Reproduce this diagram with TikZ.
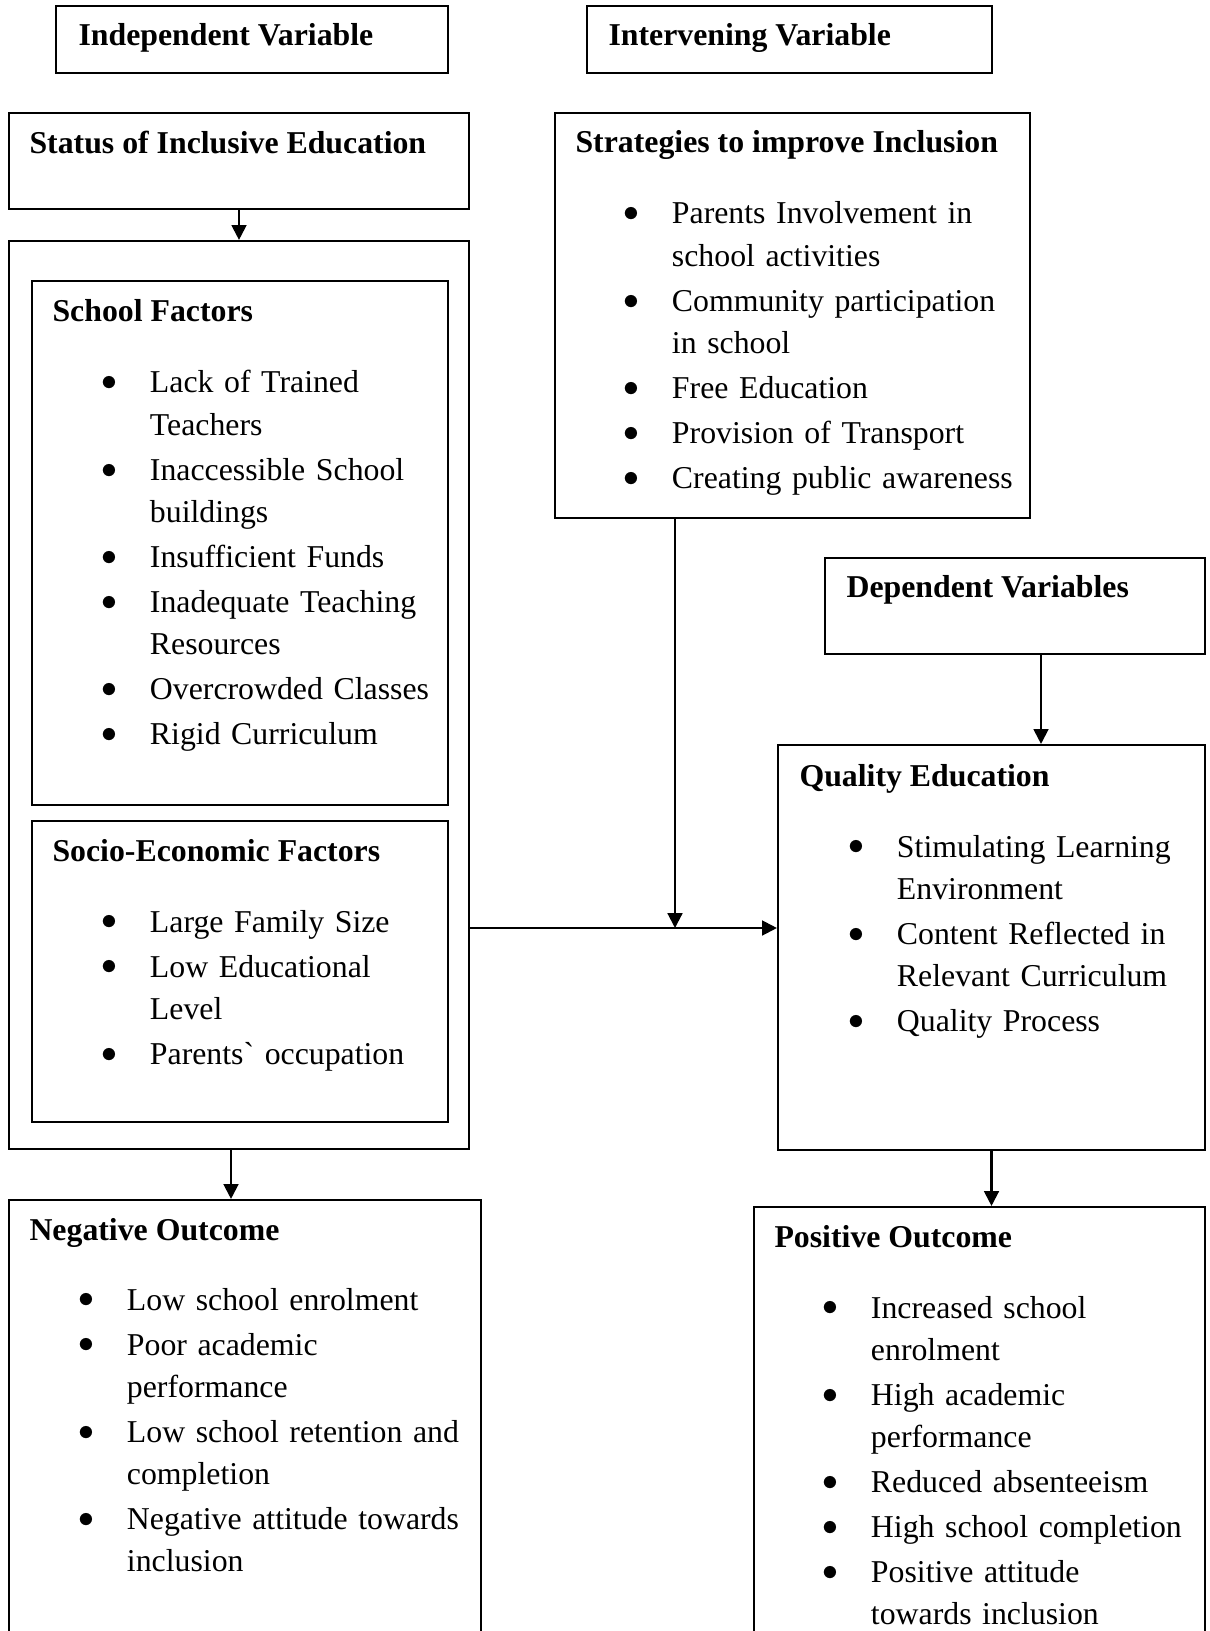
\documentclass[tikz,border=0pt]{standalone}
\usepackage{fontspec}
\setmainfont{Liberation Serif}
\newfontfamily\gravefont{Liberation Serif}
\usetikzlibrary{arrows.meta,fit}

\newcommand{\bul}{\leavevmode\makebox[18.66pt][l]{\hspace{0.4pt}\raisebox{0.8pt}{$\bullet$}}}
\newcommand{\ind}{\leavevmode\hspace*{18.66pt}}

\begin{document}
\begin{tikzpicture}[x=0.3774pt,y=-0.3774pt]
    \tikzset{
        box/.style={draw=black, line width=0.8pt, inner sep=0pt},
        head/.style={anchor=base west, inner sep=0pt, font=\fontsize{12}{15.9}\selectfont\bfseries},
        items/.style={anchor=base west, inner sep=0pt, text width=150pt, align=left, font=\fontsize{12}{15.9}\selectfont},
        arr/.style={line width=0.8pt, -{Triangle[length=5.6pt,width=5.6pt]}}
    }
    \useasboundingbox (0,0) rectangle (1209,1631);
    \node [box, fit={(56,6) (448,73)}] (indep) {};
    \node [box, fit={(587,6) (992,73)}] (interv) {};
    \node [box, fit={(9,113) (469,209)}] (status) {};
    \node [box, fit={(555,113) (1030,518)}] (strat) {};
    \node [box, fit={(9,241) (469,1149)}] (outer) {};
    \node [box, fit={(32,281) (448,805)}] (school) {};
    \node [box, fit={(32,821) (448,1122)}] (socio) {};
    \node [box, fit={(825,558) (1205,654)}] (dep) {};
    \node [box, fit={(778,745) (1205,1150)}] (quality) {};
    \node [box, fit={(9,1200) (481,1670)}] (neg) {};
    \node [box, fit={(754,1207) (1205,1670)}] (pos) {};

    \node [head] (indepH) at (78,46) {Independent Variable};
    \node [head] (intervH) at (608,46) {Intervening Variable};
    \node [head] (statusH) at (29,154) {Status of Inclusive Education};
    \node [head] (stratH) at (575,153) {Strategies to improve Inclusion};
    \node [head] (schoolH) at (52,322) {School Factors};
    \node [head] (socioH) at (52,861) {Socio-Economic Factors};
    \node [head] (depH) at (846,597) {Dependent Variables};
    \node [head] (qualityH) at (799,786) {Quality Education};
    \node [head] (negH) at (29,1240) {Negative Outcome};
    \node [head] (posH) at (774,1247) {Positive Outcome};

    \node [items] (stratL) at (622,224) {\bul Parents Involvement in\\ \ind school activities\\[1.1pt]
        \bul Community participation\\ \ind in school\\[1.1pt]
        \bul Free Education\\[1.1pt]
        \bul Provision of Transport\\[1.1pt]
        \bul Creating public awareness};
    \node [items] (schoolL) at (100,393) {\bul Lack of Trained\\ \ind Teachers\\[1.1pt]
        \bul Inaccessible School\\ \ind buildings\\[1.1pt]
        \bul Insufficient Funds\\[1.1pt]
        \bul Inadequate Teaching\\ \ind Resources\\[1.1pt]
        \bul Overcrowded Classes\\[1.1pt]
        \bul Rigid Curriculum};
    \node [items] (socioL) at (100,932) {\bul Large Family Size\\[1.1pt]
        \bul Low Educational\\ \ind Level\\[1.1pt]
        \bul Parents{\gravefont`} occupation};
    \node [items] (qualityL) at (847,857) {\bul Stimulating Learning\\ \ind Environment\\[1.1pt]
        \bul Content Reflected in\\ \ind Relevant Curriculum\\[1.1pt]
        \bul Quality Process};
    \node [items] (negL) at (77,1310) {\bul Low school enrolment\\[1.1pt]
        \bul Poor academic\\ \ind performance\\[1.1pt]
        \bul Low school retention and\\ \ind completion\\[1.1pt]
        \bul Negative attitude towards\\ \ind inclusion};
    \node [items] (posL) at (821,1318) {\bul Increased school\\ \ind enrolment\\[1.1pt]
        \bul High academic\\ \ind performance\\[1.1pt]
        \bul Reduced absenteeism\\[1.1pt]
        \bul High school completion\\[1.1pt]
        \bul Positive attitude\\ \ind towards inclusion};

    \coordinate (join) at (675,928);
    \coordinate (depx) at (1041,0);
    \coordinate (negx) at (231,0);
    \draw [arr] (status.south) -- (outer.north);
    \draw [arr] (strat.south -| join) -- (join);
    \draw [arr] (outer.east |- join) -- (quality.west |- join);
    \draw [arr] (dep.south -| depx) -- (quality.north -| depx);
    \draw [arr] (outer.south -| negx) -- (neg.north -| negx);
    \draw [arr] (quality.south) -- (quality.south |- pos.north);
\end{tikzpicture}
\end{document}
